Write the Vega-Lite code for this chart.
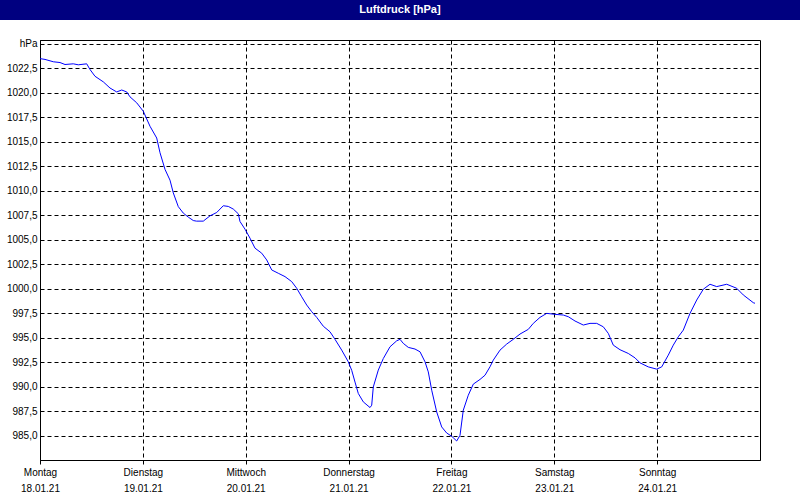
{
  "$schema": "https://vega.github.io/schema/vega-lite/v6.json",
  "background": "white",
  "padding": 0,
  "spacing": 20,
  "bounds": "flush",
  "center": true,
  "config": {"font": "Liberation Sans", "view": {"stroke": null}},
  "vconcat": [
    {
      "width": 800,
      "height": 20,
      "view": {"fill": "#000080", "stroke": null},
      "data": {"values": [{"label": "Luftdruck [hPa]"}]},
      "mark": {"type": "text", "color": "white", "fontWeight": "bold", "fontSize": 11, "align": "center", "baseline": "middle"},
      "encoding": {"text": {"field": "label", "type": "nominal"}}
    },
    {
      "width": 720,
      "height": 420,
      "view": {"stroke": "black", "strokeWidth": 1, "fill": "white"},
      "data": {"values": [
        {"t": "2021-01-18T00:00", "p": 1023.5},
        {"t": "2021-01-18T01:10", "p": 1023.42},
        {"t": "2021-01-18T03:06", "p": 1023.18},
        {"t": "2021-01-18T04:40", "p": 1023.1},
        {"t": "2021-01-18T05:50", "p": 1022.9},
        {"t": "2021-01-18T07:46", "p": 1022.97},
        {"t": "2021-01-18T08:56", "p": 1022.87},
        {"t": "2021-01-18T10:54", "p": 1022.97},
        {"t": "2021-01-18T11:40", "p": 1022.39},
        {"t": "2021-01-18T12:50", "p": 1021.7},
        {"t": "2021-01-18T14:46", "p": 1021.13},
        {"t": "2021-01-18T16:20", "p": 1020.5},
        {"t": "2021-01-18T17:54", "p": 1020.1},
        {"t": "2021-01-18T19:04", "p": 1020.3},
        {"t": "2021-01-18T20:14", "p": 1020.1},
        {"t": "2021-01-18T21:00", "p": 1019.6},
        {"t": "2021-01-18T22:34", "p": 1018.99},
        {"t": "2021-01-19T00:06", "p": 1018.13},
        {"t": "2021-01-19T01:40", "p": 1016.6},
        {"t": "2021-01-19T03:14", "p": 1015.4},
        {"t": "2021-01-19T04:00", "p": 1013.9},
        {"t": "2021-01-19T05:10", "p": 1012.2},
        {"t": "2021-01-19T06:20", "p": 1011.1},
        {"t": "2021-01-19T07:06", "p": 1009.8},
        {"t": "2021-01-19T08:16", "p": 1008.4},
        {"t": "2021-01-19T09:26", "p": 1007.74},
        {"t": "2021-01-19T10:36", "p": 1007.33},
        {"t": "2021-01-19T11:46", "p": 1006.98},
        {"t": "2021-01-19T12:30", "p": 1006.92},
        {"t": "2021-01-19T14:06", "p": 1006.92},
        {"t": "2021-01-19T15:40", "p": 1007.46},
        {"t": "2021-01-19T17:14", "p": 1007.8},
        {"t": "2021-01-19T18:46", "p": 1008.49},
        {"t": "2021-01-19T19:56", "p": 1008.42},
        {"t": "2021-01-19T21:06", "p": 1008.15},
        {"t": "2021-01-19T22:16", "p": 1007.67},
        {"t": "2021-01-19T22:40", "p": 1006.88},
        {"t": "2021-01-19T23:50", "p": 1006.1},
        {"t": "2021-01-20T01:00", "p": 1005.18},
        {"t": "2021-01-20T02:10", "p": 1004.16},
        {"t": "2021-01-20T03:44", "p": 1003.65},
        {"t": "2021-01-20T04:54", "p": 1002.96},
        {"t": "2021-01-20T06:04", "p": 1001.94},
        {"t": "2021-01-20T07:36", "p": 1001.6},
        {"t": "2021-01-20T09:10", "p": 1001.26},
        {"t": "2021-01-20T10:44", "p": 1000.75},
        {"t": "2021-01-20T11:54", "p": 1000.07},
        {"t": "2021-01-20T13:04", "p": 999.2},
        {"t": "2021-01-20T14:14", "p": 998.36},
        {"t": "2021-01-20T15:24", "p": 997.68},
        {"t": "2021-01-20T16:34", "p": 997.1},
        {"t": "2021-01-20T18:06", "p": 996.2},
        {"t": "2021-01-20T19:40", "p": 995.63},
        {"t": "2021-01-20T20:50", "p": 994.86},
        {"t": "2021-01-20T22:24", "p": 993.76},
        {"t": "2021-01-20T23:56", "p": 992.57},
        {"t": "2021-01-21T00:44", "p": 991.7},
        {"t": "2021-01-21T01:30", "p": 990.5},
        {"t": "2021-01-21T02:16", "p": 989.34},
        {"t": "2021-01-21T03:26", "p": 988.48},
        {"t": "2021-01-21T05:00", "p": 987.9},
        {"t": "2021-01-21T05:24", "p": 988.14},
        {"t": "2021-01-21T05:46", "p": 990.0},
        {"t": "2021-01-21T06:56", "p": 991.72},
        {"t": "2021-01-21T08:06", "p": 992.9},
        {"t": "2021-01-21T09:40", "p": 994.1},
        {"t": "2021-01-21T11:14", "p": 994.71},
        {"t": "2021-01-21T12:00", "p": 994.86},
        {"t": "2021-01-21T12:46", "p": 994.45},
        {"t": "2021-01-21T13:56", "p": 994.04},
        {"t": "2021-01-21T15:30", "p": 993.87},
        {"t": "2021-01-21T16:40", "p": 993.59},
        {"t": "2021-01-21T17:50", "p": 992.57},
        {"t": "2021-01-21T18:36", "p": 991.54},
        {"t": "2021-01-21T19:24", "p": 989.67},
        {"t": "2021-01-21T20:34", "p": 987.45},
        {"t": "2021-01-21T21:44", "p": 985.92},
        {"t": "2021-01-21T22:54", "p": 985.3},
        {"t": "2021-01-22T00:04", "p": 984.97},
        {"t": "2021-01-22T01:14", "p": 984.49},
        {"t": "2021-01-22T02:00", "p": 985.07},
        {"t": "2021-01-22T02:46", "p": 987.63},
        {"t": "2021-01-22T03:56", "p": 989.16},
        {"t": "2021-01-22T05:06", "p": 990.29},
        {"t": "2021-01-22T06:40", "p": 990.77},
        {"t": "2021-01-22T07:50", "p": 991.2},
        {"t": "2021-01-22T09:00", "p": 992.06},
        {"t": "2021-01-22T09:46", "p": 992.74},
        {"t": "2021-01-22T11:20", "p": 993.76},
        {"t": "2021-01-22T12:54", "p": 994.38},
        {"t": "2021-01-22T14:26", "p": 994.86},
        {"t": "2021-01-22T16:00", "p": 995.4},
        {"t": "2021-01-22T17:56", "p": 995.88},
        {"t": "2021-01-22T19:06", "p": 996.49},
        {"t": "2021-01-22T20:40", "p": 997.1},
        {"t": "2021-01-22T22:14", "p": 997.51},
        {"t": "2021-01-23T00:10", "p": 997.41},
        {"t": "2021-01-23T02:06", "p": 997.34},
        {"t": "2021-01-23T03:16", "p": 997.17},
        {"t": "2021-01-23T04:50", "p": 996.73},
        {"t": "2021-01-23T06:46", "p": 996.32},
        {"t": "2021-01-23T08:20", "p": 996.49},
        {"t": "2021-01-23T09:54", "p": 996.49},
        {"t": "2021-01-23T11:26", "p": 996.14},
        {"t": "2021-01-23T12:36", "p": 995.47},
        {"t": "2021-01-23T13:46", "p": 994.27},
        {"t": "2021-01-23T15:20", "p": 993.8},
        {"t": "2021-01-23T17:16", "p": 993.42},
        {"t": "2021-01-23T18:50", "p": 992.97},
        {"t": "2021-01-23T20:00", "p": 992.46},
        {"t": "2021-01-23T21:56", "p": 992.05},
        {"t": "2021-01-23T23:54", "p": 991.82},
        {"t": "2021-01-24T01:04", "p": 992.05},
        {"t": "2021-01-24T02:36", "p": 993.25},
        {"t": "2021-01-24T03:46", "p": 994.27},
        {"t": "2021-01-24T04:56", "p": 995.12},
        {"t": "2021-01-24T06:06", "p": 995.8},
        {"t": "2021-01-24T07:40", "p": 997.51},
        {"t": "2021-01-24T09:14", "p": 998.87},
        {"t": "2021-01-24T10:46", "p": 999.97},
        {"t": "2021-01-24T12:20", "p": 1000.48},
        {"t": "2021-01-24T13:54", "p": 1000.24},
        {"t": "2021-01-24T16:14", "p": 1000.48},
        {"t": "2021-01-24T18:34", "p": 1000.07},
        {"t": "2021-01-24T20:06", "p": 999.39},
        {"t": "2021-01-24T22:26", "p": 998.6},
        {"t": "2021-01-24T22:50", "p": 998.54}
      ]},
      "mark": {"type": "line", "color": "#0000ff", "strokeWidth": 1, "clip": true},
      "encoding": {
        "x": {
          "field": "t",
          "type": "temporal",
          "scale": {"domain": [{"year": 2021, "month": 1, "date": 18}, {"year": 2021, "month": 1, "date": 25}]},
          "axis": {
            "title": null,
            "values": [
              {"year": 2021, "month": 1, "date": 18},
              {"year": 2021, "month": 1, "date": 19},
              {"year": 2021, "month": 1, "date": 20},
              {"year": 2021, "month": 1, "date": 21},
              {"year": 2021, "month": 1, "date": 22},
              {"year": 2021, "month": 1, "date": 23},
              {"year": 2021, "month": 1, "date": 24}
            ],
            "grid": true,
            "gridColor": "black",
            "gridDash": [4, 3],
            "gridOpacity": 1,
            "gridWidth": 1,
            "domainColor": "black",
            "domainWidth": 1,
            "tickColor": "black",
            "tickSize": 4,
            "tickWidth": 1,
            "labelColor": "black",
            "labelFontSize": 10,
            "labelPadding": 3,
            "labelLineHeight": 16,
            "labelFlush": false,
            "labelOverlap": false,
            "labelExpr": "[['Sonntag','Montag','Dienstag','Mittwoch','Donnerstag','Freitag','Samstag'][day(datum.value)], timeFormat(datum.value, '%d.%m.%y')]"
          }
        },
        "y": {
          "field": "p",
          "type": "quantitative",
          "scale": {"domain": [982.55, 1025.4], "nice": false, "zero": false},
          "axis": {
            "title": null,
            "values": [985, 987.5, 990, 992.5, 995, 997.5, 1000, 1002.5, 1005, 1007.5, 1010, 1012.5, 1015, 1017.5, 1020, 1022.5, 1025],
            "grid": true,
            "gridColor": "black",
            "gridDash": [4, 3],
            "gridOpacity": 1,
            "gridWidth": 1,
            "ticks": false,
            "domainColor": "black",
            "domainWidth": 1,
            "labelColor": "black",
            "labelFontSize": 10,
            "labelPadding": 3,
            "labelExpr": "datum.value == 1025 ? 'hPa' : replace(format(datum.value, '.1f'), '.', ',')"
          }
        }
      }
    }
  ]
}
